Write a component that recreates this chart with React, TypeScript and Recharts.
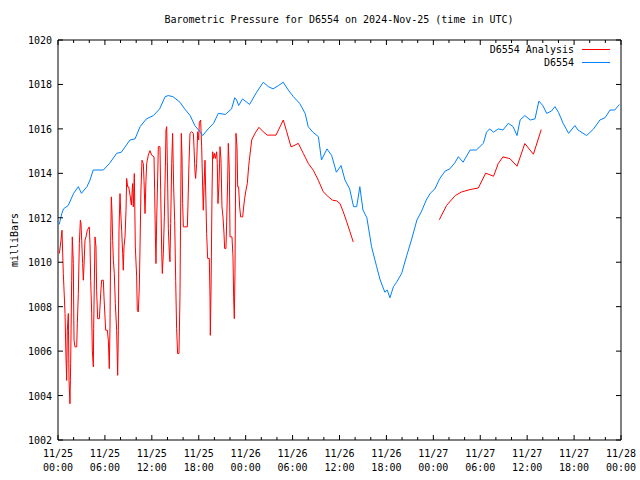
import { LineChart, Line, XAxis, YAxis, ReferenceArea } from 'recharts';

// hours since 2024-11-25 00:00 UTC, pressure in mb
const stationSeries: [number, number][] = [
  [0.15, 1011.7], [0.5, 1012.2], [0.7, 1012.4], [1.3, 1012.55], [2.0, 1013.1], [2.6, 1013.4],
  [3.0, 1013.1], [3.7, 1013.4], [4.1, 1013.7], [4.5, 1014.15], [5.8, 1014.15], [6.6, 1014.45],
  [7.5, 1014.9], [8.1, 1014.95], [9.2, 1015.5], [9.85, 1015.55], [10.5, 1016.1], [11.3, 1016.45],
  [12.2, 1016.6], [13.0, 1016.9], [13.7, 1017.45], [14.1, 1017.5], [14.7, 1017.45], [15.6, 1017.2],
  [16.2, 1016.9], [16.9, 1016.6], [17.5, 1016.15], [18.2, 1015.85], [18.5, 1015.7], [19.2, 1016.0],
  [19.9, 1016.25], [20.5, 1016.7], [21.4, 1016.65], [22.2, 1016.9], [22.6, 1017.4], [22.85, 1017.3],
  [23.1, 1017.05], [23.6, 1017.35], [24.5, 1017.1], [25.4, 1017.65], [26.25, 1018.1], [26.9, 1017.9],
  [27.5, 1017.8], [28.2, 1017.95], [28.8, 1018.1], [29.45, 1017.75], [30.1, 1017.45], [30.9, 1017.15],
  [31.6, 1016.7], [32.0, 1016.1], [32.6, 1015.85], [33.3, 1015.65], [33.7, 1014.6], [34.4, 1015.1],
  [35.0, 1014.8], [35.6, 1014.05], [36.2, 1014.35], [36.7, 1013.7], [37.3, 1013.3], [37.8, 1012.5],
  [38.2, 1012.5], [38.6, 1013.4], [39.0, 1012.35], [39.5, 1012.0], [40.1, 1010.7], [40.75, 1009.8],
  [41.2, 1009.2], [41.8, 1008.65], [42.1, 1008.75], [42.45, 1008.4], [42.9, 1008.9], [43.3, 1009.1],
  [43.95, 1009.5], [44.6, 1010.3], [45.2, 1011.0], [45.9, 1011.9], [46.5, 1012.3], [47.1, 1012.8],
  [47.6, 1013.1], [48.2, 1013.3], [48.8, 1013.75], [49.5, 1014.1], [50.1, 1014.2], [50.8, 1014.5],
  [51.2, 1014.75], [51.8, 1014.5], [52.7, 1015.05], [53.5, 1015.05], [54.4, 1015.35], [54.8, 1015.85],
  [55.2, 1016.0], [55.7, 1015.85], [56.3, 1016.0], [56.9, 1015.95], [57.6, 1016.25], [58.2, 1016.1],
  [58.7, 1015.7], [59.1, 1016.4], [59.7, 1016.6], [60.4, 1016.4], [61.0, 1016.45], [61.5, 1017.25],
  [62.0, 1017.05], [62.5, 1016.7], [63.1, 1016.8], [63.55, 1017.0], [64.0, 1016.75], [64.6, 1016.25],
  [65.3, 1015.8], [66.1, 1016.15], [66.5, 1015.95], [67.6, 1015.7], [68.5, 1016.0], [69.3, 1016.4],
  [69.95, 1016.5], [70.6, 1016.85], [71.2, 1016.85], [71.8, 1017.1],
];

const analysisFirstDay: [number, number][] = [
  [0.17, 1010.39], [0.38, 1010.99], [0.51, 1011.44], [0.68, 1009.49], [0.9, 1007.69], [1.02, 1005.74],
  [1.11, 1004.68], [1.19, 1006.94], [1.32, 1007.69], [1.41, 1004.68], [1.53, 1003.63], [1.62, 1005.44],
  [1.75, 1009.19], [1.83, 1011.14], [1.96, 1009.94], [2.05, 1006.49], [2.17, 1006.19], [2.39, 1006.19],
  [2.47, 1007.24], [2.6, 1008.59], [2.73, 1010.84], [2.86, 1011.89], [2.94, 1011.74], [3.03, 1010.99],
  [3.15, 1009.94], [3.24, 1009.19], [3.32, 1009.79], [3.45, 1010.99], [3.58, 1011.14], [3.75, 1011.44],
  [4.0, 1011.59], [4.09, 1010.84], [4.18, 1009.19], [4.31, 1007.69], [4.39, 1006.04], [4.52, 1005.29],
  [4.56, 1007.01], [4.73, 1011.14], [4.86, 1010.69], [4.94, 1008.74], [5.07, 1007.46], [5.29, 1007.46],
  [5.46, 1008.59], [5.58, 1009.19], [5.8, 1009.19], [5.88, 1008.44], [6.1, 1006.94], [6.31, 1006.94],
  [6.44, 1006.49], [6.56, 1005.21], [6.65, 1007.09], [6.74, 1010.99], [6.82, 1012.94], [6.91, 1012.19],
  [6.99, 1010.99], [7.08, 1010.09], [7.2, 1009.49], [7.33, 1008.14], [7.5, 1006.94], [7.63, 1004.91],
  [7.72, 1006.94], [7.8, 1011.44], [7.93, 1013.09], [8.01, 1012.34], [8.14, 1011.44], [8.27, 1010.39],
  [8.35, 1009.64], [8.44, 1010.69], [8.57, 1011.14], [8.7, 1012.34], [8.78, 1013.77], [8.91, 1013.39],
  [9.04, 1013.39], [9.21, 1013.02], [9.38, 1012.57], [9.46, 1013.09], [9.55, 1013.54], [9.63, 1012.49],
  [9.76, 1013.99], [9.89, 1010.69], [10.06, 1009.34], [10.14, 1007.84], [10.27, 1007.76], [10.4, 1008.89],
  [10.49, 1010.69], [10.61, 1013.24], [10.74, 1014.59], [10.91, 1014.44], [11.0, 1013.69], [11.13, 1012.19],
  [11.25, 1013.69], [11.34, 1014.44], [11.42, 1014.59], [11.55, 1014.82], [11.76, 1015.02], [11.98, 1014.82],
  [12.28, 1014.74], [12.36, 1013.24], [12.45, 1011.22], [12.53, 1009.94], [12.62, 1011.89], [12.75, 1013.84],
  [12.83, 1015.2], [13.04, 1015.2], [13.13, 1013.24], [13.26, 1010.54], [13.34, 1009.49], [13.47, 1010.39],
  [13.6, 1012.04], [13.73, 1014.29], [13.81, 1015.95], [13.9, 1016.1], [13.98, 1014.52], [14.11, 1011.52],
  [14.24, 1010.39], [14.32, 1010.02], [14.41, 1011.74], [14.54, 1014.44], [14.66, 1015.8], [14.79, 1013.39],
  [14.92, 1011.89], [15.05, 1009.19], [15.17, 1007.01], [15.3, 1005.89], [15.47, 1005.89], [15.6, 1008.44],
  [15.69, 1012.49], [15.77, 1015.8], [15.86, 1014.74], [15.94, 1012.64], [16.03, 1011.59], [16.54, 1011.59],
  [16.62, 1012.57], [16.75, 1014.44], [16.88, 1015.8], [17.09, 1015.87], [17.31, 1015.8], [17.39, 1015.2],
  [17.52, 1014.07], [17.6, 1013.77], [17.73, 1014.44], [17.86, 1015.87], [17.99, 1015.5], [18.07, 1016.28],
  [18.24, 1016.4], [18.37, 1015.2], [18.5, 1013.39], [18.58, 1012.34], [18.67, 1013.39], [18.8, 1014.59],
  [19.01, 1011.29], [19.14, 1010.17], [19.35, 1010.17], [19.44, 1008.44], [19.48, 1006.71], [19.57, 1008.74],
  [19.69, 1012.87], [19.78, 1014.97], [19.91, 1014.67], [20.03, 1014.9], [20.16, 1014.67], [20.29, 1014.97],
  [20.37, 1014.44], [20.46, 1012.64], [20.59, 1013.54], [20.72, 1015.2], [20.84, 1014.67], [20.97, 1012.49],
  [21.1, 1012.04], [21.23, 1011.29], [21.31, 1010.62], [21.48, 1010.62], [21.57, 1011.82], [21.7, 1013.69],
  [21.78, 1015.35], [21.91, 1014.14], [22.0, 1011.14], [22.25, 1011.14], [22.38, 1010.24], [22.46, 1008.44],
  [22.55, 1007.46], [22.63, 1009.49], [22.76, 1015.8], [22.89, 1015.2], [22.98, 1013.39], [23.1, 1013.39],
  [23.23, 1012.49], [23.36, 1012.04], [23.62, 1012.04], [23.74, 1012.49], [23.87, 1012.87], [24.04, 1013.24],
  [24.21, 1013.54], [24.38, 1014.29],
];

const analysisSecondDay: [number, number][] = [
  [24.47, 1014.59], [24.77, 1015.5], [25.19, 1015.8], [25.7, 1016.07], [26.25, 1015.87], [26.76, 1015.72],
  [27.88, 1015.72], [28.39, 1016.09], [28.81, 1016.4], [29.25, 1015.87], [29.8, 1015.19], [30.31, 1015.27],
  [30.73, 1015.35], [31.37, 1014.9], [32.0, 1014.45], [32.65, 1014.14], [33.29, 1013.69], [33.93, 1013.17],
  [34.57, 1012.94], [35.13, 1012.79], [35.64, 1012.76], [36.06, 1012.64], [36.48, 1012.27], [36.92, 1011.82],
  [37.34, 1011.37], [37.76, 1010.91],
];

const analysisThirdDay: [number, number][] = [
  [48.76, 1011.91], [49.7, 1012.56], [50.8, 1013.0], [51.6, 1013.16], [52.7, 1013.27], [53.75, 1013.34],
  [54.7, 1014.01], [55.7, 1013.87], [56.3, 1014.44], [56.9, 1014.74], [57.8, 1014.66], [58.7, 1014.32],
  [59.7, 1015.34], [60.8, 1014.86], [61.8, 1015.97],
];

const hourTicks = Array.from({ length: 37 }, (_, i) => i * 2);
const pressureTicks = [1002, 1004, 1006, 1008, 1010, 1012, 1014, 1016, 1018, 1020];

const stationData = stationSeries.map(([t, v]) => ({ t, v }));
const analysisData = [
  ...analysisFirstDay.map(([t, v]) => ({ t, v })),
  ...analysisSecondDay.map(([t, v]) => ({ t, v })),
  { t: 43, v: null },
  ...analysisThirdDay.map(([t, v]) => ({ t, v })),
];

const FONT = '"DejaVu Sans Mono", monospace';
const PLOT_TOP = 40;
const PLOT_BOTTOM = 440;
const PLOT_LEFT = 58;
const PLOT_RIGHT = 621;

const XTick = ({ x, payload }: any) => {
  const h = payload.value;
  const major = h % 6 === 0;
  const len = major ? 5 : 3;
  const day = 25 + Math.floor(h / 24);
  const hh = String(h % 24).padStart(2, '0');
  return (
    <g>
      <line x1={x} y1={PLOT_BOTTOM} x2={x} y2={PLOT_BOTTOM - len} stroke="#000" />
      <line x1={x} y1={PLOT_TOP} x2={x} y2={PLOT_TOP + len} stroke="#000" />
      {major && (
        <>
          <text x={x} y={457} textAnchor="middle" fontFamily={FONT} fontSize={10} fill="#000">
            {`11/${day}`}
          </text>
          <text x={x} y={471} textAnchor="middle" fontFamily={FONT} fontSize={10} fill="#000">
            {`${hh}:00`}
          </text>
        </>
      )}
    </g>
  );
};

const YTick = ({ y, payload }: any) => (
  <g>
    <line x1={PLOT_LEFT} y1={y} x2={PLOT_LEFT + 5} y2={y} stroke="#000" />
    <line x1={PLOT_RIGHT} y1={y} x2={PLOT_RIGHT - 5} y2={y} stroke="#000" />
    <text x={52} y={y + 4} textAnchor="end" fontFamily={FONT} fontSize={10} fill="#000">
      {payload.value}
    </text>
  </g>
);

export default function App() {
  return (
    <div style={{ position: 'absolute', left: 0, top: 0, width: 640, height: 480, background: '#fff' }}>
      <LineChart width={640} height={480} margin={{ top: 40, right: 19, bottom: 0, left: 8 }}>
        <XAxis
          dataKey="t"
          type="number"
          domain={[0, 72]}
          ticks={hourTicks}
          interval={0}
          allowDataOverflow
          axisLine={false}
          tickLine={false}
          height={40}
          tick={<XTick />}
        />
        <YAxis
          type="number"
          domain={[1002, 1020]}
          ticks={pressureTicks}
          interval={0}
          allowDataOverflow
          axisLine={false}
          tickLine={false}
          width={50}
          tick={<YTick />}
        />
        <ReferenceArea x1={0} x2={72} y1={1002} y2={1020} fill="none" fillOpacity={0} stroke="#000" strokeOpacity={1} />
        <Line
          data={analysisData}
          dataKey="v"
          type="linear"
          stroke="#ff0000"
          strokeWidth={1}
          dot={false}
          activeDot={false}
          connectNulls={false}
          isAnimationActive={false}
        />
        <Line
          data={stationData}
          dataKey="v"
          type="linear"
          stroke="#0080ff"
          strokeWidth={1}
          dot={false}
          activeDot={false}
          isAnimationActive={false}
        />
        <text x={339} y={23} textAnchor="middle" fontFamily={FONT} fontSize={10} fill="#000">
          Barometric Pressure for D6554 on 2024-Nov-25 (time in UTC)
        </text>
        <text x={18} y={240} transform="rotate(-90 18 240)" textAnchor="middle" fontFamily={FONT} fontSize={10} fill="#000">
          milliBars
        </text>
        <text x={574} y={53} textAnchor="end" fontFamily={FONT} fontSize={10} fill="#000">
          D6554 Analysis
        </text>
        <line x1={582} y1={49.5} x2={610} y2={49.5} stroke="#ff0000" />
        <text x={574} y={66} textAnchor="end" fontFamily={FONT} fontSize={10} fill="#000">
          D6554
        </text>
        <line x1={582} y1={62.5} x2={610} y2={62.5} stroke="#0080ff" />
      </LineChart>
    </div>
  );
}
